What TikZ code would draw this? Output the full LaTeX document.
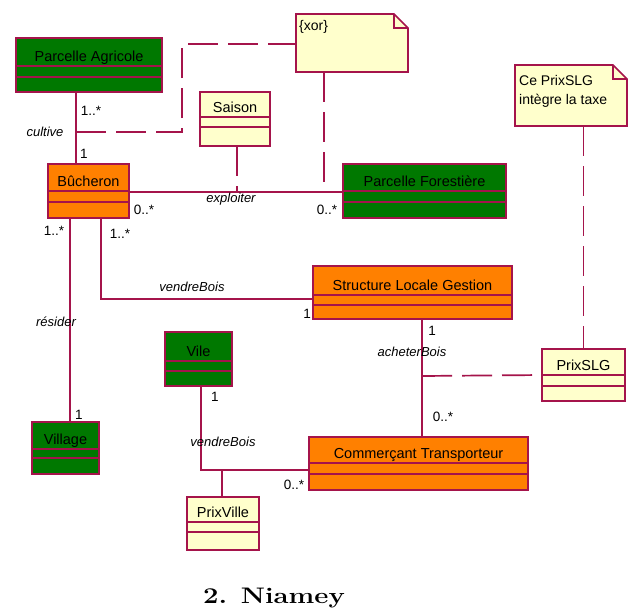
\documentclass[tikz,border=0pt]{standalone}
\usepackage{fontspec}
\newfontfamily\umlfont{Liberation Sans}
\usetikzlibrary{calc}

\definecolor{umlline}{RGB}{165,20,75}
\definecolor{umlgreen}{RGB}{0,120,0}
\definecolor{umlorange}{RGB}{255,128,0}
\definecolor{umlnote}{RGB}{255,255,204}

\tikzset{
  classbox/.style={draw=umlline, line width=1.7pt, anchor=north west,
    inner sep=0pt, outer sep=0pt},
  classsep/.style={draw=umlline, line width=1.4pt},
  classname/.style={font=\umlfont\fontsize{14.5}{17}\selectfont, inner sep=0pt, anchor=base},
  notebox/.style={draw=umlline, line width=1.7pt, fill=umlnote, line join=miter},
  notetext/.style={font=\umlfont\fontsize{14}{17}\selectfont, inner sep=0pt, anchor=west},
  role/.style={font=\umlfont\itshape\fontsize{13}{15}\selectfont, inner sep=0pt},
  mult/.style={font=\umlfont\fontsize{13.5}{15}\selectfont, inner sep=0pt},
  assoc/.style={draw=umlline, line width=1.7pt},
  notelink/.style={draw=umlline, line width=1.7pt, dash pattern=on 30pt off 10pt},
}

% class box: name, x1, y1, x2, y2, first separator, second separator, fill, title
\newcommand\umlclass[9]{%
  \node[classbox, fill=#8, minimum width={(#4-#2)*1pt}, minimum height={(#5-#3)*1pt}] (#1) at (#2,#3) {};
  \draw[classsep] (#2,#6) -- (#4,#6) (#2,#7) -- (#4,#7);
  \node[classname] at ({(#2+#4)/2},{#6-5}) {#9};
}

% note with folded corner: name, x1, y1, x2, y2, fold size
\newcommand\umlnote[6]{%
  \node[anchor=north west, inner sep=0pt, outer sep=0pt,
        minimum width={(#4-#2)*1pt}, minimum height={(#5-#3)*1pt}] (#1) at (#2,#3) {};
  \filldraw[notebox] (#2,#3) -- (#4-#6,#3) -- (#4,#3+#6) -- (#4,#5) -- (#2,#5) -- cycle;
  \draw[notebox, fill=none] (#4-#6,#3) -- (#4-#6,#3+#6) -- (#4,#3+#6);
}

\begin{document}
\begin{tikzpicture}[x=1pt, y=-1pt]
\useasboundingbox[fill=white] (0,0) rectangle (636,610);

% ---- classes
\umlclass{pa}{16}{38}{162}{92}{66}{77}{umlgreen}{Parcelle Agricole}
\umlclass{saison}{200}{92}{270}{146}{117}{127}{umlnote}{Saison}
\umlclass{buch}{48}{164}{129}{218}{191}{202}{umlorange}{Bûcheron}
\umlclass{pf}{343}{164}{506}{218}{191}{202}{umlgreen}{Parcelle Forestière}
\umlclass{slg}{313}{266}{512}{319}{295}{305}{umlorange}{Structure Locale Gestion}
\umlclass{ville}{165}{332}{232}{386}{361}{371}{umlgreen}{Vile}
\umlclass{prixslg}{542}{349}{625}{401}{375}{386}{umlnote}{PrixSLG}
\umlclass{village}{32}{422}{99}{474}{449}{458}{umlgreen}{Village}
\umlclass{ct}{309}{437}{528}{490}{463}{474}{umlorange}{Commerçant Transporteur}
\umlclass{prixville}{187}{497}{259}{550}{522}{532}{umlnote}{PrixVille}

% ---- notes
\umlnote{xor}{296}{14}{408}{72}{14}
\node[notetext] (xortext) at (299,27) {\{xor\}};
\umlnote{taxe}{515}{65}{627}{126}{14}
\node[notetext] (taxe1) at (519,80) {Ce PrixSLG};
\node[notetext] (taxe2) at (519,101) {intègre la taxe};

% ---- associations
% cultive
\draw[assoc] ($(pa.south west)+(60,0)$) -- ($(buch.north west)+(28,0)$);
\coordinate (cultmid) at ($(pa.south west)+(60,40)$);
\draw[notelink] (cultmid) -- (182,132) -- (182,44) -- ($(xor.north west)+(0,30)$);
\node[role] (lcult) at (45,132) {cultive};
\node[mult] (mcult1) at (91,111) {1..*};
\node[mult] (mcult2) at (84,154) {1};

% exploiter
\draw[assoc] ($(buch.north east)+(0,28)$) -- ($(pf.north west)+(0,28)$);
\coordinate (explmid) at ($(saison.south west)+(37,46)$);
\draw[notelink] ($(saison.south west)+(37,0)$) -- (explmid);
\coordinate (xormid) at ($(xor.south west)+(28,120)$);
\draw[notelink] ($(xor.south west)+(28,0)$) -- (xormid);
\node[role] (lexpl) at (231,199) {exploiter};
\node[mult] (mexpl1) at (144,210) {0..*};
\node[mult] (mexpl2) at (327,210) {0..*};

% résider
\draw[assoc] ($(buch.south west)+(22,0)$) -- ($(village.north west)+(38,0)$);
\node[role] (lres) at (56,322) {résider};
\node[mult] (mres1) at (54,231) {1..*};
\node[mult] (mres2) at (79,415) {1};

% vendreBois (Bûcheron -- Structure Locale Gestion)
\draw[assoc] ($(buch.south west)+(53,0)$) |- ($(slg.north west)+(0,33)$);
\node[role] (lvend1) at (192,287) {vendreBois};
\node[mult] (mvend1) at (120,234) {1..*};
\node[mult] (mvend2) at (307,314) {1};

% acheterBois
\draw[assoc] ($(slg.south west)+(109,0)$) -- ($(ct.north west)+(113,0)$);
\coordinate (achmid) at ($(slg.south west)+(109,57)$);
\draw[notelink] (achmid) -- (prixslg.west);
\node[role] (lach) at (412,352) {acheterBois};
\node[mult] (mach1) at (432,331) {1};
\node[mult] (mach2) at (443,417) {0..*};
\draw[notelink] (taxe.south -| prixslg.north) -- (prixslg.north);

% vendreBois (Vile -- Commerçant Transporteur)
\draw[assoc] ($(ville.south west)+(36,0)$) |- ($(ct.north west)+(0,33)$);
\coordinate (vendmid) at ($(ville.south west)+(57,84)$);
\draw[assoc] (vendmid) -- (vendmid |- prixville.north);
\node[role] (lvend2) at (223,442) {vendreBois};
\node[mult] (mvend3) at (215,397) {1};
\node[mult] (mvend4) at (294,485) {0..*};

% ---- caption
\node[font=\fontsize{22.5}{27}\selectfont\bfseries, anchor=base west, inner sep=0pt]
  (caption) at (203,603) {\scalebox{1.22}[1]{2. Niamey}};
\end{tikzpicture}
\end{document}
